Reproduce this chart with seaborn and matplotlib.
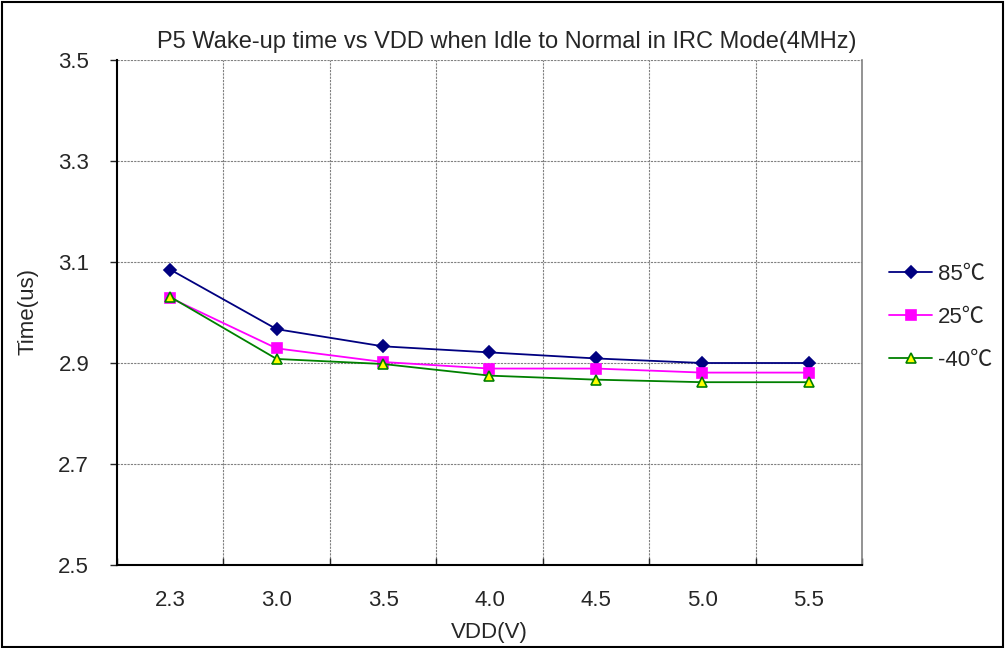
import numpy as np
import matplotlib
matplotlib.use("Agg")
import matplotlib.pyplot as plt
from matplotlib.patches import Rectangle
import seaborn as sns

# Supply voltage categories and wake-up times (us) per temperature
vdd_labels = ["2.3", "3.0", "3.5", "4.0", "4.5", "5.0", "5.5"]
t_85 = [3.085, 2.967, 2.933, 2.921, 2.909, 2.900, 2.900]
t_25 = [3.029, 2.929, 2.902, 2.889, 2.889, 2.881, 2.881]
t_m40 = [3.031, 2.908, 2.898, 2.875, 2.867, 2.862, 2.862]
series_names = ["85℃", "25℃", "-40℃"]
y_ticks = [2.5, 2.7, 2.9, 3.1, 3.3, 3.5]

sns.set_style("white")
plt.rcParams["font.family"] = ["Liberation Sans", "Noto Sans CJK SC", "DejaVu Sans"]

fig = plt.figure(figsize=(10.06, 6.48), dpi=100)
ax = fig.add_axes([117 / 1006, 1 - 565 / 648, 745 / 1006, 505 / 648])

pos = np.arange(len(vdd_labels))
styles = [
    (t_85, "#000080", "D", "#000080", "#000080", 6),
    (t_25, "#FF00FF", "s", "#FF00FF", "#FF00FF", 6.5),
    (t_m40, "#008000", "^", "#FFFF00", "#008000", 7.5),
]
for (vals, col, mk, mfc, mec, ms), name in zip(styles, series_names):
    sns.lineplot(x=pos, y=vals, ax=ax, color=col, marker=mk, markersize=ms,
                 markerfacecolor=mfc, markeredgecolor=mec, markeredgewidth=1.2,
                 linewidth=1.3, label=name, sort=False)

ax.set_xlim(-0.5, len(vdd_labels) - 0.5)
ax.set_ylim(2.5, 3.5)
ax.set_yticks(y_ticks)
ax.set_yticklabels([f"{v:.1f}" for v in y_ticks], fontsize=16)
ax.set_xticks(pos)
ax.set_xticklabels(vdd_labels, fontsize=16)
ax.set_xticks(np.arange(-0.5, len(vdd_labels), 1.0), minor=True)

ax.tick_params(axis="y", which="major", direction="out", length=5, width=1, pad=15, left=True)
ax.tick_params(axis="x", which="major", length=0, pad=18)
ax.tick_params(axis="x", which="minor", direction="in", length=5, width=1, bottom=True)

# dotted grid: horizontal at value ticks, vertical at category boundaries
ax.grid(False)
for yv in y_ticks[1:]:
    ax.axhline(yv, color="#808080", linestyle=(0, (2, 1)), linewidth=0.8, zorder=0)
for xv in np.arange(0.5, len(vdd_labels) - 1, 1.0):
    ax.axvline(xv, color="#808080", linestyle=(0, (2, 1)), linewidth=0.8, zorder=0)

for side in ["left", "bottom"]:
    ax.spines[side].set_color("black")
    ax.spines[side].set_linewidth(1.5)
ax.spines["right"].set_color("#808080")
ax.spines["right"].set_linewidth(1.2)
ax.spines["top"].set_visible(False)

ax.set_xlabel("VDD(V)", fontsize=16, labelpad=8)
fig.text(28 / 1006, 1 - 312 / 648, "Time(us)", rotation=90, ha="center", va="center", fontsize=16)
fig.text(507 / 1006, 1 - 42 / 648, "P5 Wake-up time vs VDD when Idle to Normal in IRC Mode(4MHz)",
         ha="center", va="center", fontsize=17)

ax.legend(loc="center left", bbox_to_anchor=(1.01, 0.49), frameon=False,
          fontsize=16, handlelength=1.9, labelspacing=1.0, handletextpad=0.3)

fig.patches.append(Rectangle((2 / 1006, 1 / 648), 1001 / 1006, 645 / 648,
                             transform=fig.transFigure, fill=False,
                             edgecolor="black", linewidth=1.5))

fig.savefig("out.png", dpi=100)
